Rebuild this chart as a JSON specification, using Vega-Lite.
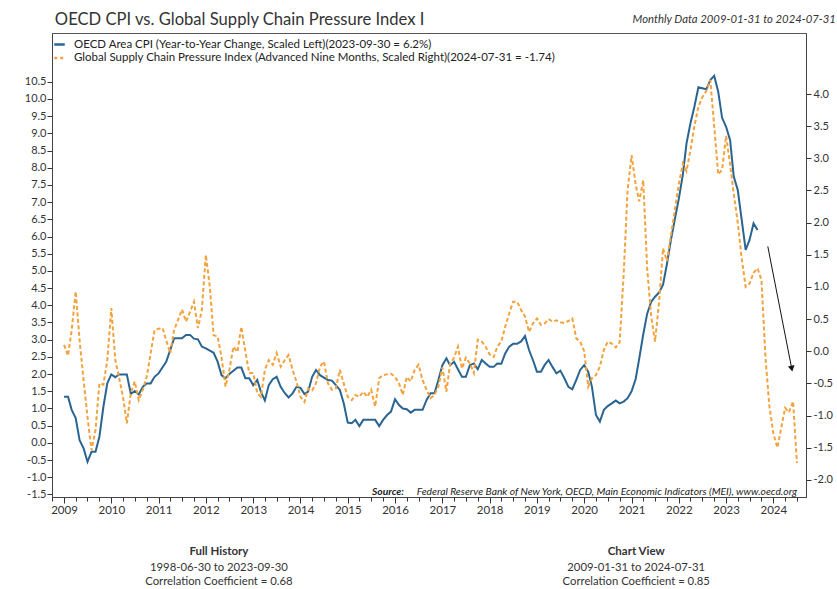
{
  "$schema": "https://vega.github.io/schema/vega-lite/v6.json",
  "description": "OECD CPI vs. Global Supply Chain Pressure Index",
  "width": 754,
  "height": 464,
  "autosize": {"type": "none"},
  "padding": {"left": 52, "top": 33, "right": 31, "bottom": 92},
  "background": "white",
  "config": {
    "font": "Lato",
    "locale": {"number": {"decimal": ".", "thousands": ",", "grouping": [3], "currency": ["$", ""], "minus": "-"}},
    "view": {"stroke": "#555", "strokeWidth": 1},
    "axis": {"labelFont": "Lato", "labelFontSize": 11, "labelColor": "#333", "tickColor": "#333", "domainColor": "#444", "grid": false, "title": null}
  },
  "datasets": {
    "monthly": [
      {"date": "2009-01-01", "cpi": 1.34, "gscpi": 0.10},
      {"date": "2009-02-01", "cpi": 1.34, "gscpi": -0.07},
      {"date": "2009-03-01", "cpi": 0.96, "gscpi": 0.33},
      {"date": "2009-04-01", "cpi": 0.72, "gscpi": 0.93},
      {"date": "2009-05-01", "cpi": 0.08, "gscpi": 0.17},
      {"date": "2009-06-01", "cpi": -0.16, "gscpi": -0.45},
      {"date": "2009-07-01", "cpi": -0.55, "gscpi": -1.02},
      {"date": "2009-08-01", "cpi": -0.26, "gscpi": -1.54},
      {"date": "2009-09-01", "cpi": -0.26, "gscpi": -1.23},
      {"date": "2009-10-01", "cpi": 0.18, "gscpi": -0.50},
      {"date": "2009-11-01", "cpi": 1.05, "gscpi": -0.52},
      {"date": "2009-12-01", "cpi": 1.73, "gscpi": -0.14},
      {"date": "2010-01-01", "cpi": 1.99, "gscpi": 0.67},
      {"date": "2010-02-01", "cpi": 1.91, "gscpi": -0.14},
      {"date": "2010-03-01", "cpi": 1.99, "gscpi": -0.40},
      {"date": "2010-04-01", "cpi": 1.99, "gscpi": -0.71},
      {"date": "2010-05-01", "cpi": 1.99, "gscpi": -1.12},
      {"date": "2010-06-01", "cpi": 1.42, "gscpi": -0.65},
      {"date": "2010-07-01", "cpi": 1.51, "gscpi": -0.47},
      {"date": "2010-08-01", "cpi": 1.41, "gscpi": -0.76},
      {"date": "2010-09-01", "cpi": 1.63, "gscpi": -0.60},
      {"date": "2010-10-01", "cpi": 1.73, "gscpi": -0.40},
      {"date": "2010-11-01", "cpi": 1.73, "gscpi": -0.03},
      {"date": "2010-12-01", "cpi": 1.92, "gscpi": 0.33},
      {"date": "2011-01-01", "cpi": 2.02, "gscpi": 0.35},
      {"date": "2011-02-01", "cpi": 2.20, "gscpi": 0.36},
      {"date": "2011-03-01", "cpi": 2.36, "gscpi": 0.17},
      {"date": "2011-04-01", "cpi": 2.70, "gscpi": -0.03},
      {"date": "2011-05-01", "cpi": 3.04, "gscpi": 0.33},
      {"date": "2011-06-01", "cpi": 3.04, "gscpi": 0.49},
      {"date": "2011-07-01", "cpi": 3.04, "gscpi": 0.65},
      {"date": "2011-08-01", "cpi": 3.14, "gscpi": 0.46},
      {"date": "2011-09-01", "cpi": 3.14, "gscpi": 0.61},
      {"date": "2011-10-01", "cpi": 3.03, "gscpi": 0.77},
      {"date": "2011-11-01", "cpi": 3.01, "gscpi": 0.36},
      {"date": "2011-12-01", "cpi": 2.80, "gscpi": 0.64},
      {"date": "2012-01-01", "cpi": 2.75, "gscpi": 1.50},
      {"date": "2012-02-01", "cpi": 2.68, "gscpi": 1.00},
      {"date": "2012-03-01", "cpi": 2.62, "gscpi": 0.25},
      {"date": "2012-04-01", "cpi": 2.36, "gscpi": 0.23},
      {"date": "2012-05-01", "cpi": 1.97, "gscpi": -0.09},
      {"date": "2012-06-01", "cpi": 1.88, "gscpi": -0.55},
      {"date": "2012-07-01", "cpi": 2.00, "gscpi": -0.29},
      {"date": "2012-08-01", "cpi": 2.10, "gscpi": 0.07},
      {"date": "2012-09-01", "cpi": 2.19, "gscpi": -0.01},
      {"date": "2012-10-01", "cpi": 2.19, "gscpi": 0.38},
      {"date": "2012-11-01", "cpi": 1.88, "gscpi": 0.00},
      {"date": "2012-12-01", "cpi": 1.88, "gscpi": -0.34},
      {"date": "2013-01-01", "cpi": 1.68, "gscpi": -0.34},
      {"date": "2013-02-01", "cpi": 1.83, "gscpi": -0.65},
      {"date": "2013-03-01", "cpi": 1.49, "gscpi": -0.71},
      {"date": "2013-04-01", "cpi": 1.23, "gscpi": -0.29},
      {"date": "2013-05-01", "cpi": 1.68, "gscpi": -0.14},
      {"date": "2013-06-01", "cpi": 1.85, "gscpi": -0.21},
      {"date": "2013-07-01", "cpi": 1.92, "gscpi": -0.03},
      {"date": "2013-08-01", "cpi": 1.63, "gscpi": -0.24},
      {"date": "2013-09-01", "cpi": 1.45, "gscpi": -0.14},
      {"date": "2013-10-01", "cpi": 1.32, "gscpi": -0.06},
      {"date": "2013-11-01", "cpi": 1.44, "gscpi": -0.29},
      {"date": "2013-12-01", "cpi": 1.63, "gscpi": -0.47},
      {"date": "2014-01-01", "cpi": 1.60, "gscpi": -0.71},
      {"date": "2014-02-01", "cpi": 1.42, "gscpi": -0.79},
      {"date": "2014-03-01", "cpi": 1.49, "gscpi": -0.58},
      {"date": "2014-04-01", "cpi": 1.92, "gscpi": -0.61},
      {"date": "2014-05-01", "cpi": 2.12, "gscpi": -0.50},
      {"date": "2014-06-01", "cpi": 1.97, "gscpi": -0.24},
      {"date": "2014-07-01", "cpi": 1.90, "gscpi": -0.16},
      {"date": "2014-08-01", "cpi": 1.83, "gscpi": -0.50},
      {"date": "2014-09-01", "cpi": 1.81, "gscpi": -0.60},
      {"date": "2014-10-01", "cpi": 1.68, "gscpi": -0.58},
      {"date": "2014-11-01", "cpi": 1.54, "gscpi": -0.29},
      {"date": "2014-12-01", "cpi": 1.15, "gscpi": -0.50},
      {"date": "2015-01-01", "cpi": 0.59, "gscpi": -0.71},
      {"date": "2015-02-01", "cpi": 0.57, "gscpi": -0.76},
      {"date": "2015-03-01", "cpi": 0.67, "gscpi": -0.68},
      {"date": "2015-04-01", "cpi": 0.49, "gscpi": -0.71},
      {"date": "2015-05-01", "cpi": 0.67, "gscpi": -0.63},
      {"date": "2015-06-01", "cpi": 0.67, "gscpi": -0.71},
      {"date": "2015-07-01", "cpi": 0.67, "gscpi": -0.60},
      {"date": "2015-08-01", "cpi": 0.67, "gscpi": -0.86},
      {"date": "2015-09-01", "cpi": 0.49, "gscpi": -0.42},
      {"date": "2015-10-01", "cpi": 0.67, "gscpi": -0.37},
      {"date": "2015-11-01", "cpi": 0.81, "gscpi": -0.36},
      {"date": "2015-12-01", "cpi": 0.91, "gscpi": -0.35},
      {"date": "2016-01-01", "cpi": 1.27, "gscpi": -0.40},
      {"date": "2016-02-01", "cpi": 1.10, "gscpi": -0.50},
      {"date": "2016-03-01", "cpi": 1.00, "gscpi": -0.68},
      {"date": "2016-04-01", "cpi": 0.98, "gscpi": -0.40},
      {"date": "2016-05-01", "cpi": 0.88, "gscpi": -0.47},
      {"date": "2016-06-01", "cpi": 0.96, "gscpi": -0.29},
      {"date": "2016-07-01", "cpi": 0.96, "gscpi": -0.21},
      {"date": "2016-08-01", "cpi": 0.96, "gscpi": -0.45},
      {"date": "2016-09-01", "cpi": 1.25, "gscpi": -0.60},
      {"date": "2016-10-01", "cpi": 1.44, "gscpi": -0.73},
      {"date": "2016-11-01", "cpi": 1.44, "gscpi": -0.68},
      {"date": "2016-12-01", "cpi": 1.83, "gscpi": -0.55},
      {"date": "2017-01-01", "cpi": 2.26, "gscpi": -0.25},
      {"date": "2017-02-01", "cpi": 2.46, "gscpi": -0.63},
      {"date": "2017-03-01", "cpi": 2.26, "gscpi": -0.20},
      {"date": "2017-04-01", "cpi": 2.36, "gscpi": -0.10},
      {"date": "2017-05-01", "cpi": 2.14, "gscpi": 0.07},
      {"date": "2017-06-01", "cpi": 1.92, "gscpi": -0.27},
      {"date": "2017-07-01", "cpi": 1.92, "gscpi": -0.10},
      {"date": "2017-08-01", "cpi": 2.26, "gscpi": -0.19},
      {"date": "2017-09-01", "cpi": 2.31, "gscpi": -0.34},
      {"date": "2017-10-01", "cpi": 2.14, "gscpi": 0.18},
      {"date": "2017-11-01", "cpi": 2.41, "gscpi": 0.15},
      {"date": "2017-12-01", "cpi": 2.31, "gscpi": 0.07},
      {"date": "2018-01-01", "cpi": 2.21, "gscpi": -0.05},
      {"date": "2018-02-01", "cpi": 2.21, "gscpi": -0.09},
      {"date": "2018-03-01", "cpi": 2.31, "gscpi": 0.07},
      {"date": "2018-04-01", "cpi": 2.30, "gscpi": 0.15},
      {"date": "2018-05-01", "cpi": 2.60, "gscpi": 0.38},
      {"date": "2018-06-01", "cpi": 2.80, "gscpi": 0.59},
      {"date": "2018-07-01", "cpi": 2.88, "gscpi": 0.77},
      {"date": "2018-08-01", "cpi": 2.88, "gscpi": 0.77},
      {"date": "2018-09-01", "cpi": 2.95, "gscpi": 0.64},
      {"date": "2018-10-01", "cpi": 3.11, "gscpi": 0.54},
      {"date": "2018-11-01", "cpi": 2.70, "gscpi": 0.30},
      {"date": "2018-12-01", "cpi": 2.41, "gscpi": 0.43},
      {"date": "2019-01-01", "cpi": 2.07, "gscpi": 0.51},
      {"date": "2019-02-01", "cpi": 2.07, "gscpi": 0.41},
      {"date": "2019-03-01", "cpi": 2.26, "gscpi": 0.43},
      {"date": "2019-04-01", "cpi": 2.41, "gscpi": 0.50},
      {"date": "2019-05-01", "cpi": 2.21, "gscpi": 0.46},
      {"date": "2019-06-01", "cpi": 2.02, "gscpi": 0.48},
      {"date": "2019-07-01", "cpi": 2.10, "gscpi": 0.45},
      {"date": "2019-08-01", "cpi": 1.88, "gscpi": 0.44},
      {"date": "2019-09-01", "cpi": 1.63, "gscpi": 0.47},
      {"date": "2019-10-01", "cpi": 1.56, "gscpi": 0.51},
      {"date": "2019-11-01", "cpi": 1.83, "gscpi": 0.20},
      {"date": "2019-12-01", "cpi": 2.12, "gscpi": 0.15},
      {"date": "2020-01-01", "cpi": 2.26, "gscpi": 0.00},
      {"date": "2020-02-01", "cpi": 2.07, "gscpi": -0.55},
      {"date": "2020-03-01", "cpi": 1.63, "gscpi": -0.42},
      {"date": "2020-04-01", "cpi": 0.81, "gscpi": -0.37},
      {"date": "2020-05-01", "cpi": 0.62, "gscpi": -0.24},
      {"date": "2020-06-01", "cpi": 0.96, "gscpi": 0.02},
      {"date": "2020-07-01", "cpi": 1.07, "gscpi": 0.15},
      {"date": "2020-08-01", "cpi": 1.15, "gscpi": 0.12},
      {"date": "2020-09-01", "cpi": 1.23, "gscpi": 0.06},
      {"date": "2020-10-01", "cpi": 1.15, "gscpi": 0.14},
      {"date": "2020-11-01", "cpi": 1.20, "gscpi": 1.20},
      {"date": "2020-12-01", "cpi": 1.30, "gscpi": 2.50},
      {"date": "2021-01-01", "cpi": 1.50, "gscpi": 3.05},
      {"date": "2021-02-01", "cpi": 1.85, "gscpi": 2.60},
      {"date": "2021-03-01", "cpi": 2.45, "gscpi": 2.33},
      {"date": "2021-04-01", "cpi": 3.15, "gscpi": 2.66},
      {"date": "2021-05-01", "cpi": 3.75, "gscpi": 1.30},
      {"date": "2021-06-01", "cpi": 4.10, "gscpi": 0.55},
      {"date": "2021-07-01", "cpi": 4.25, "gscpi": 0.15},
      {"date": "2021-08-01", "cpi": 4.37, "gscpi": 0.75},
      {"date": "2021-09-01", "cpi": 4.60, "gscpi": 1.60},
      {"date": "2021-10-01", "cpi": 5.20, "gscpi": 1.40},
      {"date": "2021-11-01", "cpi": 5.90, "gscpi": 1.80},
      {"date": "2021-12-01", "cpi": 6.50, "gscpi": 2.20},
      {"date": "2022-01-01", "cpi": 7.10, "gscpi": 2.60},
      {"date": "2022-02-01", "cpi": 7.80, "gscpi": 2.92},
      {"date": "2022-03-01", "cpi": 8.70, "gscpi": 2.80},
      {"date": "2022-04-01", "cpi": 9.30, "gscpi": 3.13},
      {"date": "2022-05-01", "cpi": 9.77, "gscpi": 3.50},
      {"date": "2022-06-01", "cpi": 10.34, "gscpi": 3.80},
      {"date": "2022-07-01", "cpi": 10.31, "gscpi": 3.95},
      {"date": "2022-08-01", "cpi": 10.28, "gscpi": 4.05},
      {"date": "2022-09-01", "cpi": 10.55, "gscpi": 4.22},
      {"date": "2022-10-01", "cpi": 10.67, "gscpi": 3.50},
      {"date": "2022-11-01", "cpi": 10.21, "gscpi": 2.75},
      {"date": "2022-12-01", "cpi": 9.45, "gscpi": 2.82},
      {"date": "2023-01-01", "cpi": 9.19, "gscpi": 3.35},
      {"date": "2023-02-01", "cpi": 8.80, "gscpi": 2.90},
      {"date": "2023-03-01", "cpi": 7.74, "gscpi": 2.45},
      {"date": "2023-04-01", "cpi": 7.35, "gscpi": 2.00},
      {"date": "2023-05-01", "cpi": 6.50, "gscpi": 1.45},
      {"date": "2023-06-01", "cpi": 5.61, "gscpi": 1.00},
      {"date": "2023-07-01", "cpi": 5.90, "gscpi": 1.05},
      {"date": "2023-08-01", "cpi": 6.38, "gscpi": 1.22},
      {"date": "2023-09-01", "cpi": 6.19, "gscpi": 1.29},
      {"date": "2023-10-01", "gscpi": 1.11},
      {"date": "2023-11-01", "gscpi": -0.10},
      {"date": "2023-12-01", "gscpi": -0.85},
      {"date": "2024-01-01", "gscpi": -1.28},
      {"date": "2024-02-01", "gscpi": -1.50},
      {"date": "2024-03-01", "gscpi": -1.20},
      {"date": "2024-04-01", "gscpi": -0.88},
      {"date": "2024-05-01", "gscpi": -0.95},
      {"date": "2024-06-01", "gscpi": -0.78},
      {"date": "2024-07-01", "gscpi": -1.74}
    ]
  },
  "encoding": {
    "x": {
      "field": "date",
      "type": "temporal",
      "scale": {"type": "utc", "domain": [{"year": 2008, "month": 9, "date": 30, "utc": true}, {"year": 2024, "month": 9, "date": 9, "utc": true}]},
      "axis": {
        "title": null,
        "tickCount": {"interval": "month", "step": 3},
        "labelExpr": "utcmonth(datum.value) === 0 ? utcFormat(datum.value, '%Y') : ''",
        "tickSize": {"condition": {"test": "utcmonth(datum.value) === 0", "value": 6}, "value": 4},
        "labelPadding": 1,
        "labelDx": 2,
        "labelFontSize": 11.5,
        "labelOverlap": false,
        "labelFlush": false,
        "labelBound": false,
        "grid": false
      }
    }
  },
  "layer": [
    {
      "data": {"name": "monthly"},
      "mark": {"type": "line", "strokeWidth": 2},
      "encoding": {
        "y": {
          "field": "cpi",
          "type": "quantitative",
          "scale": {"domain": [-1.573, 11.916], "nice": false, "zero": false},
          "axis": {"orient": "left", "title": null, "values": [-1.5, -1, -0.5, 0, 0.5, 1, 1.5, 2, 2.5, 3, 3.5, 4, 4.5, 5, 5.5, 6, 6.5, 7, 7.5, 8, 8.5, 9, 9.5, 10, 10.5], "format": ".1f", "tickSize": 5, "labelPadding": 1, "grid": false}
        },
        "color": {
          "datum": "OECD Area CPI (Year-to-Year Change, Scaled Left)(2023-09-30 = 6.2%)",
          "type": "nominal",
          "scale": {
            "domain": ["OECD Area CPI (Year-to-Year Change, Scaled Left)(2023-09-30 = 6.2%)", "Global Supply Chain Pressure Index (Advanced Nine Months, Scaled Right)(2024-07-31 = -1.74)"],
            "range": ["#2a6592", "#f3a23c"]
          },
          "legend": {
            "title": null,
            "orient": "none",
            "legendX": 1,
            "legendY": 5,
            "padding": 0,
            "symbolType": "stroke",
            "symbolSize": 110,
            "symbolStrokeWidth": 2.5,
            "labelFont": "Lato",
            "labelFontSize": 11.5,
            "labelColor": "#222",
            "labelLimit": 800,
            "labelOffset": 8,
            "rowPadding": 1.5,
            "encode": {"symbols": {"update": {"strokeDash": {"signal": "datum.index === 1 ? [3, 3] : [40, 0]"}}}}
          }
        }
      }
    },
    {
      "layer": [
        {
          "data": {"name": "monthly"},
          "mark": {"type": "line", "strokeWidth": 2, "strokeDash": [4, 2.5]},
          "encoding": {
            "y": {
              "field": "gscpi",
              "type": "quantitative",
              "scale": {"domain": [-2.267, 4.949], "nice": false, "zero": false},
              "axis": {"orient": "right", "title": null, "values": [-2, -1.5, -1, -0.5, 0, 0.5, 1, 1.5, 2, 2.5, 3, 3.5, 4], "format": ".1f", "tickSize": 5, "labelPadding": 2, "grid": false}
            },
            "color": {"datum": "Global Supply Chain Pressure Index (Advanced Nine Months, Scaled Right)(2024-07-31 = -1.74)", "type": "nominal"}
          }
        },
        {
          "data": {"values": [{"date": "2023-11-19", "val": 1.63, "date2": "2024-05-18", "val2": -0.23}]},
          "mark": {"type": "rule", "color": "#111", "strokeWidth": 1},
          "encoding": {
            "y": {
              "field": "val",
              "type": "quantitative",
              "scale": {"domain": [-2.267, 4.949], "nice": false, "zero": false},
              "axis": {"orient": "right", "title": null, "values": [-2, -1.5, -1, -0.5, 0, 0.5, 1, 1.5, 2, 2.5, 3, 3.5, 4], "format": ".1f", "tickSize": 5, "labelPadding": 2, "grid": false}
            },
            "x2": {"field": "date2"},
            "y2": {"field": "val2"}
          }
        },
        {
          "data": {"values": [{"date": "2024-05-22", "val": -0.27}]},
          "mark": {"type": "point", "shape": "triangle-down", "filled": true, "color": "#111", "opacity": 1, "size": 45, "angle": 349},
          "encoding": {
            "y": {
              "field": "val",
              "type": "quantitative",
              "scale": {"domain": [-2.267, 4.949], "nice": false, "zero": false},
              "axis": {"orient": "right", "title": null, "values": [-2, -1.5, -1, -0.5, 0, 0.5, 1, 1.5, 2, 2.5, 3, 3.5, 4], "format": ".1f", "tickSize": 5, "labelPadding": 2, "grid": false}
            }
          }
        }
      ]
    },
    {
      "layer": [
        {
          "data": {"values": [{"date": "2008-10-22", "val": 12.29, "t": "OECD CPI vs. Global Supply Chain Pressure Index I"}]},
          "mark": {"type": "text", "align": "left", "baseline": "middle", "fontSize": 16.6, "color": "#333"},
          "encoding": {
            "y": {"field": "val", "type": "quantitative", "scale": {"domain": [-1.573, 11.916], "nice": false, "zero": false}, "axis": null},
            "text": {"field": "t"}
          }
        },
        {
          "data": {"values": [{"date": "2025-04-28", "val": 12.29, "t": "Monthly Data 2009-01-31 to 2024-07-31"}]},
          "mark": {"type": "text", "align": "right", "baseline": "middle", "fontSize": 11.3, "fontStyle": "italic", "color": "#333"},
          "encoding": {
            "y": {"field": "val", "type": "quantitative", "scale": {"domain": [-1.573, 11.916], "nice": false, "zero": false}, "axis": null},
            "text": {"field": "t"}
          }
        },
        {
          "data": {"values": [
            {"date": "2012-04-11", "val": -3.17, "t": "Full History"},
            {"date": "2021-02-06", "val": -3.17, "t": "Chart View"}
          ]},
          "mark": {"type": "text", "align": "center", "baseline": "middle", "fontSize": 11.5, "fontWeight": "bold", "color": "#333"},
          "encoding": {
            "y": {"field": "val", "type": "quantitative", "scale": {"domain": [-1.573, 11.916], "nice": false, "zero": false}, "axis": null},
            "text": {"field": "t"}
          }
        },
        {
          "data": {"values": [
            {"date": "2012-04-11", "val": -3.64, "t": "1998-06-30 to 2023-09-30"},
            {"date": "2012-04-11", "val": -4.04, "t": "Correlation Coefficient = 0.68"},
            {"date": "2021-02-06", "val": -3.64, "t": "2009-01-31 to 2024-07-31"},
            {"date": "2021-02-06", "val": -4.04, "t": "Correlation Coefficient = 0.85"}
          ]},
          "mark": {"type": "text", "align": "center", "baseline": "middle", "fontSize": 11.3, "color": "#333"},
          "encoding": {
            "y": {"field": "val", "type": "quantitative", "scale": {"domain": [-1.573, 11.916], "nice": false, "zero": false}, "axis": null},
            "text": {"field": "t"}
          }
        },
        {
          "data": {"values": [{"date": "2015-07-07", "val": -1.43, "t": "Source:"}]},
          "mark": {"type": "text", "align": "left", "baseline": "middle", "fontSize": 10.3, "fontWeight": "bold", "fontStyle": "italic", "color": "#222"},
          "encoding": {
            "y": {"field": "val", "type": "quantitative", "scale": {"domain": [-1.573, 11.916], "nice": false, "zero": false}, "axis": null},
            "text": {"field": "t"}
          }
        },
        {
          "data": {"values": [{"date": "2024-07-02", "val": -1.43, "t": "Federal Reserve Bank of New York, OECD, Main Economic Indicators (MEI), www.oecd.org"}]},
          "mark": {"type": "text", "align": "right", "baseline": "middle", "fontSize": 10.3, "fontStyle": "italic", "color": "#222"},
          "encoding": {
            "y": {"field": "val", "type": "quantitative", "scale": {"domain": [-1.573, 11.916], "nice": false, "zero": false}, "axis": null},
            "text": {"field": "t"}
          }
        }
      ]
    }
  ],
  "resolve": {"scale": {"y": "independent"}}
}
